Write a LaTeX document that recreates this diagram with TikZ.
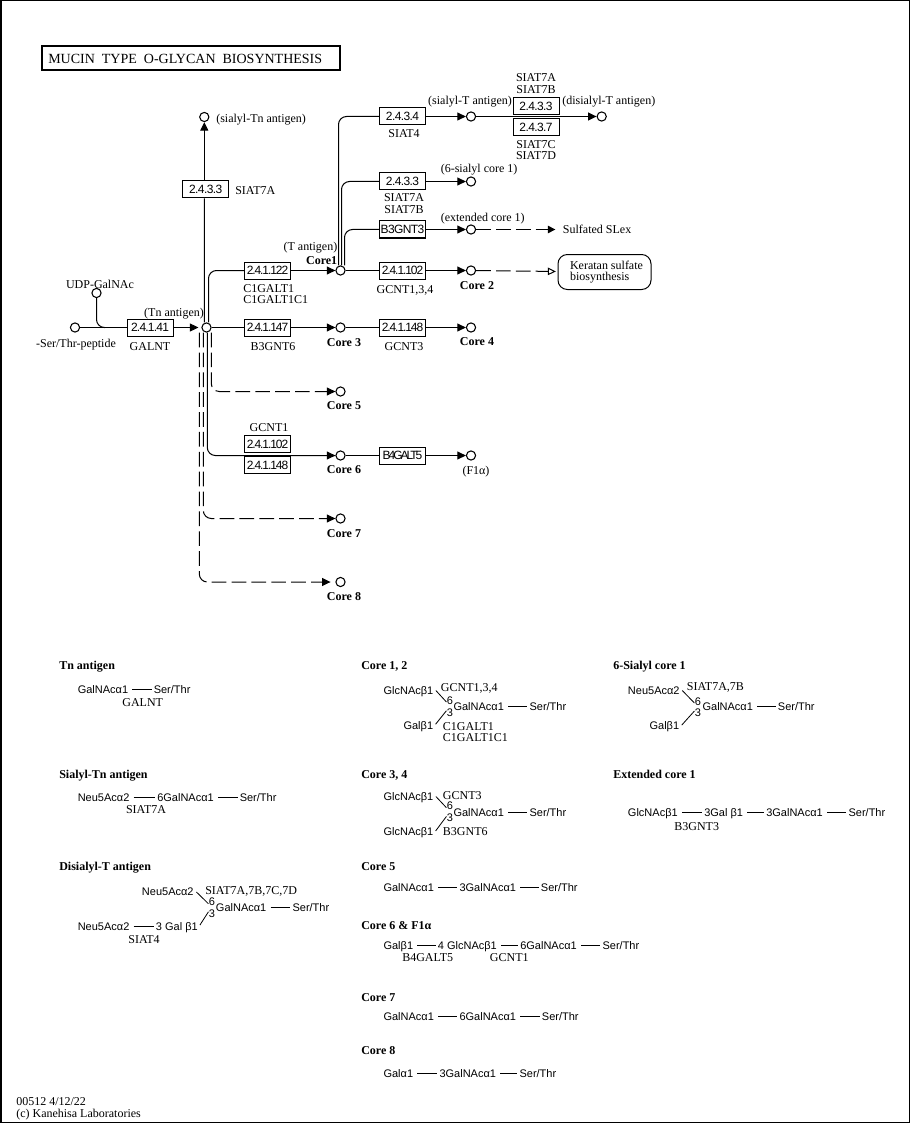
\documentclass[tikz,border=0pt]{standalone}
\usepackage{fontspec}
\setmainfont{Liberation Serif}
\newfontfamily\ecN[LetterSpace=-5]{Liberation Sans}
\newfontfamily\ecS[LetterSpace=-6.5]{Liberation Sans}
\newfontfamily\ecT[LetterSpace=-9]{Liberation Sans}
\newfontfamily\ecB[LetterSpace=-17]{Liberation Sans}
\newfontfamily\glyf{Liberation Sans}
\usetikzlibrary{arrows.meta}
\tikzset{
  cpd/.style={circle,draw,fill=white,line width=.8pt,minimum size=6.9pt,inner sep=0pt},
  enz/.style={rectangle,draw,fill=white,line width=.75pt,minimum width=34.5pt,minimum height=12.75pt,inner sep=0pt,font=\fontsize{9}{10}\ecN},
  enzs/.style={enz,font=\fontsize{9}{10}\ecS},
  enzt/.style={enz,font=\fontsize{9}{10}\ecT},
  enzb/.style={enz,font=\fontsize{9}{10}\ecB},
  lab/.style={inner sep=0pt,text height=6pt,text depth=0pt,font=\fontsize{9}{10}\selectfont},
  labl/.style={lab,anchor=west},
  labr/.style={lab,anchor=east},
  bld/.style={lab,font=\fontsize{9}{10}\selectfont\bfseries},
  head/.style={bld,anchor=west},
  gly/.style={inner sep=0pt,anchor=west,text height=6pt,text depth=0pt,font=\fontsize{8.25}{9}\glyf},
  flow/.style={line width=.75pt},
  curve/.style={flow,rounded corners=6pt},
  dashy/.style={dash pattern=on 11pt off 3.9pt},
  tip/.style={-{Triangle[length=6.4pt,width=6pt]}},
  tipsmall/.style={-{Triangle[length=5.6pt,width=5.6pt]}},
  tipopen/.style={-{Triangle[open,fill=white,length=6pt,width=5.6pt]}},
  bond/.style={line width=.75pt,shorten <=3pt,shorten >=1.5pt},
  link/.style={line width=.6pt,shorten <=2.6pt,shorten >=.3pt},
  linkr/.style={line width=.6pt,shorten <=.3pt,shorten >=2.6pt},
}
\begin{document}
\begin{tikzpicture}[x=.75pt,y=-.75pt]
\useasboundingbox (0,0) rectangle (910,1123);
\draw[line width=.75pt] (.5,.5) rectangle (909.5,1122.5);
\draw[line width=.75pt] (1.5,.5) -- (1.5,1122.5);
% title
\node[rectangle,draw,line width=1.5pt,minimum width=223.5pt,minimum height=18pt,inner sep=0pt] (title) at (190.5,58.5) {};
\node[lab,anchor=west,font=\fontsize{10.5}{12}\selectfont] (titletext) at (48,60) {MUCIN\ \ TYPE\ \ O-GLYCAN\ \ BIOSYNTHESIS};
% compounds
\node[cpd] (ser) at (75,327.5) {};
\node[cpd] (udp) at (96.5,293) {};
\node[cpd] (tn) at (206.5,327.5) {};
\node[cpd] (stn) at (204.3,117) {};
\node[cpd] (c1) at (340.5,270.5) {};
\node[cpd] (st) at (471,116.5) {};
\node[cpd] (dst) at (601.7,116.5) {};
\node[cpd] (s6) at (471,181.5) {};
\node[cpd] (ext) at (471,229.5) {};
\node[cpd] (c2) at (471,270.5) {};
\node[cpd] (c3) at (340.5,327.5) {};
\node[cpd] (c4) at (471,327.5) {};
\node[cpd] (c5) at (340.5,391.5) {};
\node[cpd] (c6) at (340.5,455.5) {};
\node[cpd] (f1) at (471,455.5) {};
\node[cpd] (c7) at (340.5,518.5) {};
\node[cpd] (c8) at (340.5,582) {};
% enzymes
\node[enzs] (e41) at (150,327.5) {2.4.1.41};
\node[enz] (e33a) at (205.7,189.5) {2.4.3.3};
\node[enzt] (e122) at (267.5,270.5) {2.4.1.122};
\node[enzt] (e147) at (267.5,327.5) {2.4.1.147};
\node[enz] (e34) at (402.5,116.5) {2.4.3.4};
\node[enz] (e33b) at (536,106) {2.4.3.3};
\node[enz] (e37) at (536,127) {2.4.3.7};
\node[enz] (e33c) at (402.5,181.5) {2.4.3.3};
\node[enz] (eb3) at (402.5,229.5) {B3GNT3};
\node[enzt] (e102) at (402.5,270.5) {2.4.1.102};
\node[enzt] (e148) at (402.5,327.5) {2.4.1.148};
\node[enzt] (e102b) at (267.5,444) {2.4.1.102};
\node[enzt] (e148b) at (267.5,465) {2.4.1.148};
\node[enzb] (eb4) at (402.5,455.5) {B4GALT5};
\node[rectangle,draw,line width=.75pt,rounded corners=7pt,minimum width=69.75pt,minimum height=26.25pt,inner sep=0pt,align=left,font=\fontsize{9}{8.6}\selectfont] (ker) at (604.5,272) {\hspace*{3pt}Keratan sulfate\\\hspace*{3pt}biosynthesis};
\node[labl] (sulf) at (562.7,229.5) {Sulfated SLex};
\coordinate (udpjoin) at (104,327.5);
% connectors
\draw[flow] (ser) -- (e41);
\draw[curve] (udp) |- (udpjoin);
\draw[flow,tip,shorten >=2.2pt] (e41) -- (tn);
\draw[flow] ([xshift=-1.65pt]tn.north) -- ([xshift=-1.05pt]e33a.south);
\draw[flow,tip] ([xshift=-1.05pt]e33a.north) -- (stn);
\draw[curve] ([xshift=1.5pt]tn.north) |- (e122);
\draw[flow,tip] (e122) -- (c1);
\draw[flow] (tn) -- (e147);
\draw[flow,tip] (e147) -- (c3);
\draw[flow] (c3) -- (e148);
\draw[flow,tip] (e148) -- (c4);
\draw[flow] (c1) -- (e102);
\draw[flow,tip] (e102) -- (c2);
\draw[curve] ([xshift=-1.5pt]c1.north) |- (e34);
\draw[curve] ([xshift=.75pt]c1.north) |- (e33c);
\draw[curve] ([xshift=3pt]c1.north) |- (eb3);
\draw[flow,tip] (e34) -- (st);
\draw[flow,tip] (st) -- (dst);
\draw[flow,tip] (e33c) -- (s6);
\draw[flow,tip] (eb3) -- (ext);
\draw[flow,dashy,tipsmall,shorten >=5.5pt] (ext) -- (sulf);
\draw[flow,dashy,tipopen,shorten >=1.2pt] (c2) -- (ker);
\draw[curve,dashy] ([xshift=3.6pt]tn.south) |- ([xshift=-6pt]c5.west);
\draw[flow,tip] ([xshift=-6pt]c5.west) -- (c5);
\draw[curve] ([xshift=.6pt]tn.south) |- (c6.west);
\draw[flow,tip] ([xshift=-5pt]c6.west) -- (c6);
\draw[flow] (c6) -- (eb4);
\draw[flow,tip] (eb4) -- (f1);
\draw[curve,dashy] ([xshift=-2.4pt]tn.south) |- ([xshift=-6pt]c7.west);
\draw[flow,tip] ([xshift=-6pt]c7.west) -- (c7);
\draw[curve,dashy] ([xshift=-5.4pt]tn.south) |- ([xshift=-10pt]c8.west);
\draw[flow,tip,shorten >=3.6pt] ([xshift=-10pt]c8.west) -- (c8);
% pathway labels
\node[lab] (l1) at (100,284) {UDP-GalNAc};
\node[lab] (l2) at (76,343) {-Ser/Thr-peptide};
\node[lab] (l3) at (150,346) {GALNT};
\node[lab] (l4) at (174,312) {(Tn antigen)};
\node[labl] (l5) at (216,119) {(sialyl-Tn antigen)};
\node[labl] (l6) at (235,191) {SIAT7A};
\node[labl] (l7) at (243,288) {C1GALT1};
\node[labl] (l8) at (243,299) {C1GALT1C1};
\node[lab] (l9) at (273,346) {B3GNT6};
\node[labr] (l10) at (337.5,246) {(T antigen)};
\node[bld,anchor=east] (l11) at (337.5,260) {Core1};
\node[lab] (l12) at (470,101) {(sialyl-T antigen)};
\node[lab] (l13) at (404,134) {SIAT4};
\node[lab] (l14) at (536,78) {SIAT7A};
\node[lab] (l15) at (536,90) {SIAT7B};
\node[lab] (l16) at (536,145) {SIAT7C};
\node[lab] (l17) at (536,156) {SIAT7D};
\node[labl] (l18) at (562,101) {(disialyl-T antigen)};
\node[labl] (l19) at (440.5,169) {(6-sialyl core 1)};
\node[lab] (l20) at (404,198) {SIAT7A};
\node[lab] (l21) at (404,210) {SIAT7B};
\node[labl] (l22) at (440.5,218) {(extended core 1)};
\node[lab] (l23) at (405,289) {GCNT1,3,4};
\node[bld] (l24) at (477,285) {Core 2};
\node[bld] (l25) at (344,342) {Core 3};
\node[lab] (l26) at (404,346) {GCNT3};
\node[bld] (l27) at (477,341) {Core 4};
\node[bld] (l28) at (344,405) {Core 5};
\node[lab] (l29) at (269,427) {GCNT1};
\node[bld] (l30) at (344,469) {Core 6};
\node[lab] (l31) at (476,470) {(F1α)};
\node[bld] (l32) at (344,533) {Core 7};
\node[bld] (l33) at (344,596) {Core 8};
% Tn antigen
\node[head] (h1) at (59,665) {Tn antigen};
\node[gly] (a1) at (77.5,689.5) {GalNAcα1};
\node[gly] (a2) at (153.5,689.5) {Ser/Thr};
\draw[bond] (a1) -- (a2);
\node[lab] (a3) at (142.7,702) {GALNT};
% Sialyl-Tn
\node[head] (h2) at (59,774) {Sialyl-Tn antigen};
\node[gly] (b1) at (77.5,797) {Neu5Acα2};
\node[gly] (b2) at (157,797) {6GalNAcα1};
\node[gly] (b3) at (239.5,797) {Ser/Thr};
\draw[bond] (b1) -- (b2);
\draw[bond] (b2) -- (b3);
\node[lab] (b4) at (146,809) {SIAT7A};
% Disialyl-T
\node[head] (h3) at (59,866) {Disialyl-T antigen};
\node[gly] (d1) at (141.7,891.5) {Neu5Acα2};
\node[labl] (d2) at (205,890.5) {SIAT7A,7B,7C,7D};
\node[gly,anchor=center] (d6) at (212,901.7) {6};
\node[gly,anchor=center] (d3) at (212,913) {3};
\node[gly] (d4) at (215.7,907.3) {GalNAcα1};
\node[gly] (d5) at (292.3,907.3) {Ser/Thr};
\node[gly] (d7) at (77.5,926) {Neu5Acα2};
\node[gly] (d8) at (155.7,926) {3 Gal β1};
\node[lab] (d9) at (144,939) {SIAT4};
\draw[bond] (d4) -- (d5);
\draw[link] ([yshift=1.5pt]d1.east) -- ([yshift=1.5pt]d6.south west);
\draw[linkr] ([yshift=-2pt]d3.north west) -- ([yshift=-1.5pt]d8.east);
\draw[bond] (d7) -- (d8);
% Core 1,2
\node[head] (h4) at (361,665) {Core 1, 2};
\node[gly] (e1) at (383.3,690) {GlcNAcβ1};
\node[labl] (e2) at (440.7,687) {GCNT1,3,4};
\node[gly,anchor=center] (e6) at (450,700) {6};
\node[gly,anchor=center] (e3) at (450,712) {3};
\node[gly] (e4) at (453.3,706) {GalNAcα1};
\node[gly] (e5) at (529.3,706) {Ser/Thr};
\node[gly] (e7) at (403.3,725) {Galβ1};
\node[labl] (e8) at (442.7,726.7) {C1GALT1};
\node[labl] (e9) at (442.7,737.7) {C1GALT1C1};
\draw[bond] (e4) -- (e5);
\draw[link] ([yshift=1.5pt]e1.east) -- ([yshift=1.5pt]e6.south west);
\draw[linkr] ([yshift=-2pt]e3.north west) -- ([yshift=-1.5pt]e7.east);
% Core 3,4
\node[head] (h5) at (361,774) {Core 3, 4};
\node[gly] (f11) at (383.3,796) {GlcNAcβ1};
\node[labl] (f12) at (442.7,795.7) {GCNT3};
\node[gly,anchor=center] (f16) at (450,805.7) {6};
\node[gly,anchor=center] (f13) at (450,817.7) {3};
\node[gly] (f14) at (453.3,812) {GalNAcα1};
\node[gly] (f15) at (529.3,812) {Ser/Thr};
\node[gly] (f17) at (383.3,831.7) {GlcNAcβ1};
\node[labl] (f18) at (442.7,831.7) {B3GNT6};
\draw[bond] (f14) -- (f15);
\draw[link] ([yshift=1.5pt]f11.east) -- ([yshift=1.5pt]f16.south west);
\draw[linkr] ([yshift=-2pt]f13.north west) -- ([yshift=-1.5pt]f17.east);
% Core 5
\node[head] (h6) at (361,866.5) {Core 5};
\node[gly] (g1) at (383.3,887) {GalNAcα1};
\node[gly] (g2) at (459.3,887) {3GalNAcα1};
\node[gly] (g3) at (540.7,887) {Ser/Thr};
\draw[bond] (g1) -- (g2);
\draw[bond] (g2) -- (g3);
% Core 6 & F1a
\node[head] (h7) at (361,925) {Core 6 \& F1α};
\node[gly] (k1) at (383.3,945.5) {Galβ1};
\node[gly] (k2) at (437.7,945.5) {4 GlcNAcβ1};
\node[gly] (k3) at (520,945.5) {6GalNAcα1};
\node[gly] (k4) at (602.3,945.5) {Ser/Thr};
\draw[bond] (k1) -- (k2);
\draw[bond] (k2) -- (k3);
\draw[bond] (k3) -- (k4);
\node[lab] (k5) at (427.7,957.7) {B4GALT5};
\node[lab] (k6) at (509.3,957.7) {GCNT1};
% Core 7
\node[head] (h8) at (361,997) {Core 7};
\node[gly] (m1) at (383.3,1016) {GalNAcα1};
\node[gly] (m2) at (459.3,1016) {6GalNAcα1};
\node[gly] (m3) at (541.7,1016) {Ser/Thr};
\draw[bond] (m1) -- (m2);
\draw[bond] (m2) -- (m3);
% Core 8
\node[head] (h9) at (361,1050.5) {Core 8};
\node[gly] (n1) at (383.3,1073) {Galα1};
\node[gly] (n2) at (439.3,1073) {3GalNAcα1};
\node[gly] (n3) at (519.3,1073) {Ser/Thr};
\draw[bond] (n1) -- (n2);
\draw[bond] (n2) -- (n3);
% 6-Sialyl core 1
\node[head] (h10) at (613,665) {6-Sialyl core 1};
\node[gly] (p1) at (627.7,690) {Neu5Acα2};
\node[labl] (p2) at (686.7,686.7) {SIAT7A,7B};
\node[gly,anchor=center] (p6) at (698,701) {6};
\node[gly,anchor=center] (p3) at (698,712.3) {3};
\node[gly] (p4) at (702.3,706.5) {GalNAcα1};
\node[gly] (p5) at (777.7,706.5) {Ser/Thr};
\node[gly] (p7) at (649.3,725.7) {Galβ1};
\draw[bond] (p4) -- (p5);
\draw[link] ([yshift=1.5pt]p1.east) -- ([yshift=1.5pt]p6.south west);
\draw[linkr] ([yshift=-2pt]p3.north west) -- ([yshift=-1.5pt]p7.east);
% Extended core 1
\node[head] (h11) at (613,774) {Extended core 1};
\node[gly] (q1) at (627.7,812) {GlcNAcβ1};
\node[gly] (q2) at (704,812) {3Gal β1};
\node[gly] (q3) at (766,812) {3GalNAcα1};
\node[gly] (q4) at (848.3,812) {Ser/Thr};
\draw[bond] (q1) -- (q2);
\draw[bond] (q2) -- (q3);
\draw[bond] (q3) -- (q4);
\node[lab] (q5) at (696.7,826.7) {B3GNT3};
% footer
\node[labl] (z1) at (16,1101) {00512 4/12/22};
\node[labl] (z2) at (16,1113) {(c) Kanehisa Laboratories};
\end{tikzpicture}
\end{document}
